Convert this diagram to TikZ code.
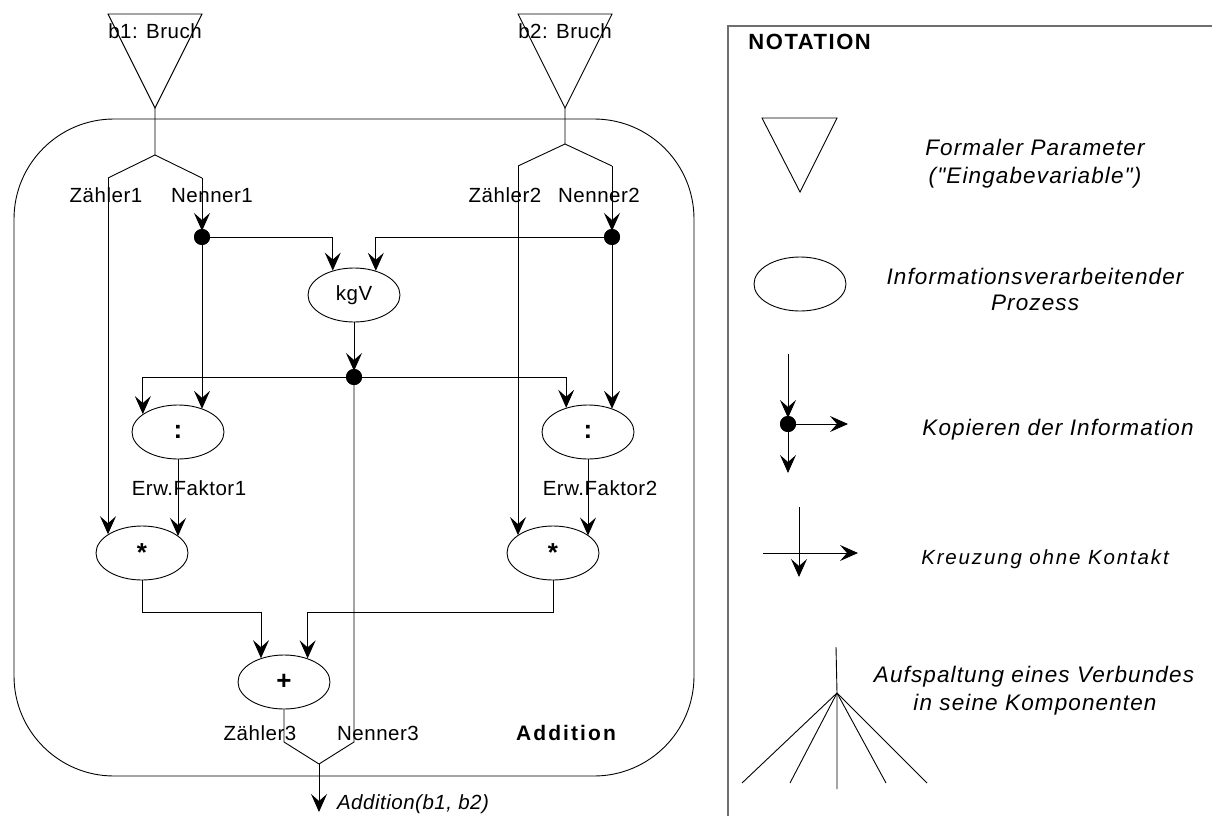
\documentclass[tikz,border=0pt]{standalone}
\usepackage{fontspec}
\setmainfont{Liberation Sans}
\newfontfamily\lblfont[LetterSpace=2.5]{Liberation Sans}
\newfontfamily\legfont[LetterSpace=5]{Liberation Sans}
\newfontfamily\crossfont[LetterSpace=9]{Liberation Sans}
\newfontfamily\headfont[LetterSpace=7]{Liberation Sans}
\newfontfamily\modfont[LetterSpace=10]{Liberation Sans}
\usetikzlibrary{arrows.meta,shapes.geometric}

\tikzset{
  every path/.style={line width=0.9pt},
  flow/.style={-{Stealth[length=18pt,width=16pt,inset=7pt]}},
  intodot/.style={flow, shorten >=6pt},
  proc/.style={ellipse, draw, line width=0.9pt, minimum width=92pt, minimum height=54pt, inner sep=0pt},
  op/.style={font=\bfseries\fontsize{26}{28}\selectfont},
  plain/.style={font=\lblfont\fontsize{20.5}{22}\selectfont},
  junction/.style={circle, fill=black, minimum size=16pt, inner sep=0pt},
  lbl/.style={font=\lblfont\fontsize{20.5}{22}\selectfont, inner sep=0pt, anchor=base},
  lblit/.style={font=\lblfont\itshape\fontsize{20.5}{22}\selectfont, inner sep=0pt, anchor=base},
  modname/.style={font=\modfont\bfseries\fontsize{21}{24}\selectfont, inner sep=0pt, anchor=base},
  head/.style={font=\headfont\bfseries\fontsize{22}{25}\selectfont, inner sep=0pt, anchor=base west},
  leg/.style={font=\legfont\itshape\fontsize{22.5}{27}\selectfont, inner sep=0pt, anchor=base},
  legx/.style={font=\crossfont\itshape\fontsize{20.5}{22}\selectfont, inner sep=0pt, anchor=base},
  frame/.style={draw={rgb,255:red,110;green,110;blue,110}, line width=1.6pt},
}

\begin{document}
\begin{tikzpicture}[x=1pt,y=-1pt]
\useasboundingbox (0,0) rectangle (1212,816);

% ---------- module "Addition" ----------
\draw[rounded corners=100pt] (14,119) rectangle (694,776);
\node[modname] (modlbl) at (566,740) {Addition};

% input parameters
\draw (108,14) -- (202,14) -- (155,108) -- cycle;
\draw (518,14) -- (612,14) -- (565,108) -- cycle;
\node[lbl] (b1) at (155,38) {b1: Bruch};
\node[lbl] (b2) at (565,38) {b2: Bruch};
\coordinate (a1) at (155,108);
\coordinate (a2) at (565,108);

% splitting of the records
\coordinate (s1) at (155,155);
\coordinate (z1) at (108,178);
\coordinate (n1) at (202,178);
\coordinate (s2) at (565,144);
\coordinate (z2) at (518,166);
\coordinate (n2) at (612,166);
\draw (a1) -- (s1) -- (z1);
\draw (s1) -- (n1);
\draw (a2) -- (s2) -- (z2);
\draw (s2) -- (n2);
\node[lbl] (lz1) at (106,202) {Zähler1};
\node[lbl] (ln1) at (212,202) {Nenner1};
\node[lbl] (lz2) at (505,202) {Zähler2};
\node[lbl] (ln2) at (599,202) {Nenner2};

% processes
\node[proc, plain] (kgv) at (354,295) {kgV};
\node[proc, op] (div1) at (178,432) {:};
\node[proc, op] (div2) at (588,432) {:};
\node[proc, op] (mul1) at (142,553) {*};
\node[proc, op] (mul2) at (553,553) {*};
\node[proc, op] (add) at (284,682) {+};

% copy points
\node[junction] (d1) at (202,237) {};
\node[junction] (d2) at (612,237) {};
\node[junction] (d3) at (354,377) {};

% data flow
\draw[intodot] (n1) -- (d1.center);
\draw[intodot] (n2) -- (d2.center);
\draw[flow] (d1.center) -| (kgv.131.2);
\draw[flow] (d2.center) -| (kgv.48.8);
\draw[intodot] (kgv.south) -- (d3.center);
\draw[flow] (d3.center) -| (div1.153.4);
\draw[flow] (d3.center) -| (div2.132.9);
\draw[flow] (d1.center) -- (d1.center |- div1.43.8);
\draw[flow] (d2.center) -- (d2.center |- div2.43.8);
\draw[flow] (z1) -- (z1 |- mul1.151.8);
\draw[flow] (z2) -- (z2 |- mul2.153.4);
\draw[flow] (div1.south) -- (div1.south |- mul1.25);
\draw[flow] (div2.south) -- (div2.south |- mul2.26.6);
\node[lbl] (ef1) at (189,495) {Erw.Faktor1};
\node[lbl] (ef2) at (600,495) {Erw.Faktor2};

\coordinate (jy) at (0,612);
\draw[flow] (mul1.south) -- (mul1.south |- jy) -| (add.134.5);
\draw[flow] (mul2.south) -- (mul2.south |- jy) -| (add.45.5);

% result record
\coordinate (n3) at (354,742);
\coordinate (f3) at (319,764);
\coordinate (res) at (319,812);
\draw (add.south) -- (add.south |- n3) -- (f3);
\draw (d3.center) -- (n3) -- (f3);
\draw[flow] (f3) -- (res);
\node[lbl] (lz3) at (260,740) {Zähler3};
\node[lbl] (ln3) at (378,740) {Nenner3};
\node[lblit] (lres) at (413,809) {Addition(b1, b2)};

% redraw copy points on top of the lines
\node[junction] at (d1) {};
\node[junction] at (d2) {};
\node[junction] at (d3) {};

% ---------- notation ----------
\draw[frame] (728,816) -- (728,26) -- (1212,26);
\node[head] (nt) at (748,50) {NOTATION};

\draw (762,118) -- (837,118) -- (800,192) -- cycle;
\node[leg] (t1a) at (1035,155) {Formaler Parameter};
\node[leg] (t1b) at (1035,183) {("Eingabevariable")};

\node[proc] (lell) at (800,284) {};
\node[leg] (t2a) at (1035,284) {Informationsverarbeitender};
\node[leg] (t2b) at (1035,310) {Prozess};

\node[junction] (ld) at (788,424) {};
\coordinate (lda) at (788,354);
\coordinate (ldr) at (848,424);
\coordinate (ldb) at (788,473);
\draw[intodot] (lda) -- (ld.center);
\draw[flow] (ld.center) -- (ldr);
\draw[flow] (ld.center) -- (ldb);
\node[junction] at (ld) {};
\node[leg] (t3) at (1058,435) {Kopieren der Information};

\coordinate (cv1) at (799,507);
\coordinate (cv2) at (799,577);
\coordinate (ch1) at (763,553);
\coordinate (ch2) at (858,553);
\draw[flow] (cv1) -- (cv2);
\draw[flow] (ch1) -- (ch2);
\node[legx] (t4) at (1045,564) {Kreuzung ohne Kontakt};

\coordinate (sp0) at (836,647);
\coordinate (sp) at (837,693);
\coordinate (sp5) at (837,789);
\draw (sp0) -- (sp) -- (sp5);
\draw (sp) -- (742,783);
\draw (sp) -- (790,783);
\draw (sp) -- (886,783);
\draw (sp) -- (927,783);
\node[leg] (t5a) at (1034,682) {Aufspaltung eines Verbundes};
\node[leg] (t5b) at (1035,710) {in seine Komponenten};
\end{tikzpicture}
\end{document}
